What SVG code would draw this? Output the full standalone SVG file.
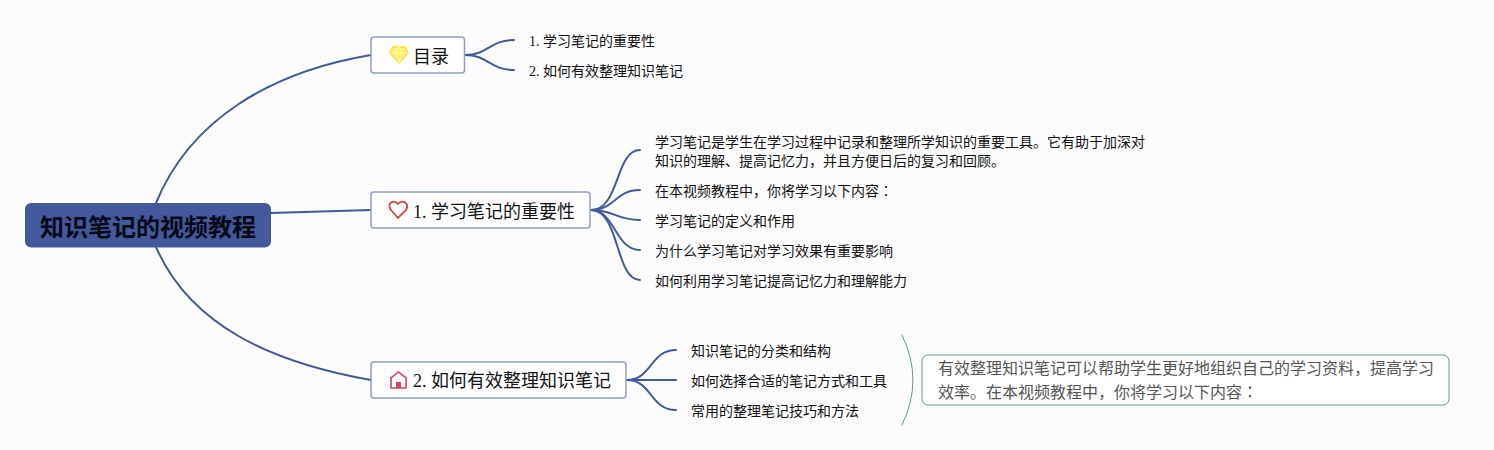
<svg xmlns="http://www.w3.org/2000/svg" width="1494" height="450" viewBox="0 0 1494 450">
<style>
text{font-family:"Liberation Serif","Noto Sans CJK SC",serif;fill:#111}
.b{fill:#fff;stroke:#8e9dc2;stroke-width:1.5}
.t{font-size:18px}
.s{font-size:14px}
.j{font-family:"Noto Sans CJK JP",sans-serif}
.c path{fill:none;stroke:#43599b;stroke-width:2;stroke-linecap:round}
</style>
<rect width="1494" height="450" fill="#fcfcfd"/>
<g id="connectors" class="c">
<path d="M156 203C190 120 270 72 371 55"/>
<path d="M271 213L371 210"/>
<path d="M156 247C190 325 270 362 371 380"/>
<path d="M465 55C488 55 490 40 514 40"/>
<path d="M465 55C488 55 490 70 514 70"/>
<path d="M591 210C620 210 615 150 640 150"/>
<path d="M591 210C615 210 615 190 640 190"/>
<path d="M591 210C615 210 615 220 640 220"/>
<path d="M591 210C615 210 615 250 640 250"/>
<path d="M591 210C620 210 615 280 640 280"/>
<path d="M627 380C652 380 650 350 676 350"/>
<path d="M627 380L676 380"/>
<path d="M627 380C652 380 650 410 676 410"/>
<path d="M902 335Q924 380 902 425" style="stroke:#5e9a82;stroke-width:1"/>
</g>
<g id="root"><rect x="25" y="203" width="246" height="44.500" rx="6" fill="#43599b"/><text x="148" y="236" text-anchor="middle" font-size="24" font-weight="700" style="fill:#060a18">知识笔记的视频教程</text></g>
<g id="n0"><rect class="b" x="371" y="37" width="93.500" height="36" rx="3"/>
<path d="M393 47H405L408 53L399 63L390 53Z" fill="#fff36b" stroke="#f4e232" stroke-width="1.500"/><path d="M390 53H408M395 53L399 62L403 53L399 47Z" fill="none" stroke="#fdfbc0"/>
<text class="t" x="413" y="63">目录</text></g>
<g id="n1"><rect class="b" x="371" y="192" width="219" height="36" rx="3"/>
<path d="M398 218L391 210C386 203 394 199 398 204C402 199 410 203 406 210Z" fill="none" stroke="#d0473a" stroke-width="1.800"/>
<text class="t" x="413" y="218">1. 学习笔记的重要性</text></g>
<g id="n2"><rect class="b" x="371" y="362" width="255" height="36" rx="3"/>
<path d="M391 388V378L398.500 372L406 378V388Z" fill="none" stroke="#d4405f" stroke-width="1.600"/><path d="M396 388V382H401V388Z" fill="#d4405f"/>
<text class="t" x="413" y="387">2. 如何有效整理知识笔记</text></g>
<g id="l01"><text class="s" x="529" y="46">1. 学习笔记的重要性</text></g>
<g id="l02"><text class="s" x="529" y="76">2. 如何有效整理知识笔记</text></g>
<g id="l11"><text class="s" x="655" y="147">学习笔记是学生在学习过程中记录和整理所学知识的重要工具。它有助于加深对</text><text class="s" x="655" y="166">知识的理解、提高记忆力，并且方便日后的复习和回顾。</text></g>
<g id="l12"><text class="s" x="655" y="196">在本视频教程中，你将学习以下内容<tspan class="j">：</tspan></text></g>
<g id="l13"><text class="s" x="655" y="226">学习笔记的定义和作用</text></g>
<g id="l14"><text class="s" x="655" y="256">为什么学习笔记对学习效果有重要影响</text></g>
<g id="l15"><text class="s" x="655" y="286">如何利用学习笔记提高记忆力和理解能力</text></g>
<g id="l21"><text class="s" x="691" y="356">知识笔记的分类和结构</text></g>
<g id="l22"><text class="s" x="691" y="386">如何选择合适的笔记方式和工具</text></g>
<g id="l23"><text class="s" x="691" y="416">常用的整理笔记技巧和方法</text></g>
<g id="summary"><rect x="922" y="355" width="527" height="50" rx="6" fill="#fff" stroke="#5e9a82"/>
<text x="938" y="374" font-size="16" style="fill:#555">有效整理知识笔记可以帮助学生更好地组织自己的学习资料，提高学习</text><text x="938" y="398" font-size="16" style="fill:#555">效率。在本视频教程中，你将学习以下内容<tspan class="j">：</tspan></text></g>
</svg>
